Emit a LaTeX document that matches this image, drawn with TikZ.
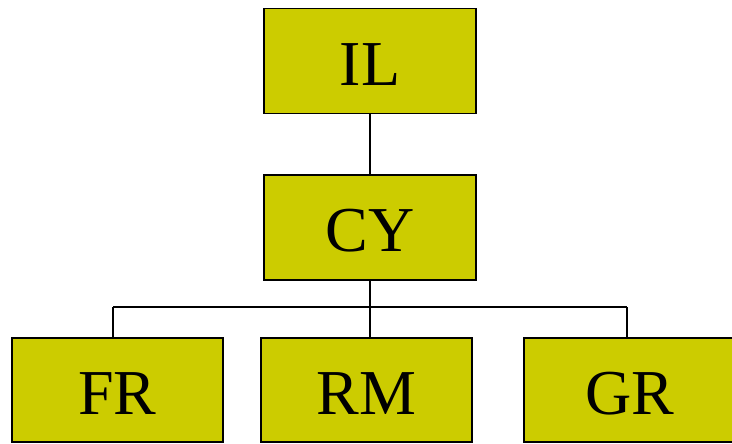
\documentclass[tikz,border=0pt]{standalone}
\usepackage{fontspec}
\setmainfont{Liberation Serif}
\usepackage{tikz}

\tikzset{
  unit/.style={draw, line width=1.5pt, fill=olive, minimum width=212pt,
    minimum height=105pt, inner sep=0pt, text height=48pt, text depth=0pt,
    font=\fontsize{64}{64}\selectfont},
  link/.style={line width=1.5pt}
}
\definecolor{olive}{HTML}{CCCC00}

\begin{document}
\begin{tikzpicture}[x=1pt,y=-1pt]
    \useasboundingbox (0,0) rectangle (732,444);

    % ================= BOXES =================
    \node[unit] (il) at (370,61)    {IL};
    \node[unit] (cy) at (370,227.5) {CY};
    \node[unit, minimum width=211pt, minimum height=104pt] (fr) at (117.5,390) {FR};
    \node[unit, minimum width=211pt, minimum height=104pt] (rm) at (366.5,390) {RM};
    \node[unit, minimum width=211pt, minimum height=104pt] (gr) at (629.5,390) {GR};

    % ================= LINKS =================
    \coordinate (busL) at (113,307);
    \coordinate (busR) at (627,307);

    \draw[link] (il) -- (cy);
    \draw[link] (busL) -- (busR);
    \draw[link] (cy.south) -- (cy.south |- busL);
    \draw[link] (cy.south |- busL) -- (cy.south |- rm.north);
    \draw[link] (busL) -- (busL |- fr.north);
    \draw[link] (busR) -- (busR |- gr.north);
\end{tikzpicture}
\end{document}
